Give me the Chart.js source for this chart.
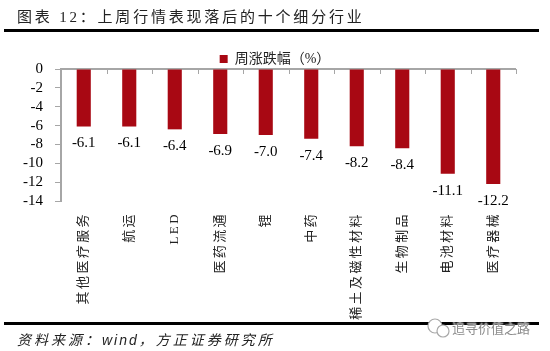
<!DOCTYPE html>
<html lang="zh">
<head>
  <meta charset="UTF-8">
  <title>图表 12</title>
  <script src="https://cdn.jsdelivr.net/npm/chart.js"></script>
  <style>
    html, body { margin: 0; padding: 0; background: #fff; }
    #wrap { position: relative; width: 550px; height: 351px; overflow: hidden; font-family: "Liberation Serif", "Noto Sans CJK SC", serif; }
    #chart { position: absolute; left: 0; top: 0; }
    .rule { position: absolute; left: 4px; width: 535px; height: 3px; background: #000; }
    #ruleTop { top: 29px; }
    #ruleBottom { top: 322px; }
    #title { position: absolute; left: 17px; top: 5px; font-size: 15px; letter-spacing: 2.8px; color: #222; white-space: nowrap; }
    #source { position: absolute; left: 17px; top: 329px; font-size: 14px; font-style: italic; letter-spacing: 3px; color: #222; white-space: nowrap; }
    #source span { font-family: "Liberation Sans"; letter-spacing: 2px; }
    #mark { position: absolute; left: 424px; top: 316px; width: 112px; height: 24px; }
    #markText { position: absolute; left: 452px; top: 318px; font-size: 13px; color: #8c8c8c; white-space: nowrap; font-family: "Noto Sans CJK SC"; text-shadow: 0 0 2px #fff, 0 0 2px #fff; }
  </style>
</head>
<body>
  <div id="wrap">
    <canvas id="chart" width="550" height="351"></canvas>
    <div id="title">图表 12：上周行情表现落后的十个细分行业</div>
    <div class="rule" id="ruleTop"></div>
    <div class="rule" id="ruleBottom"></div>
    <div id="source">资料来源：<span>wind</span>，方正证券研究所</div>
    <svg id="mark" viewBox="0 0 112 24">
      <circle cx="11" cy="10" r="7" fill="#fff" stroke="#a8a8a8" stroke-width="1.2"/>
      <circle cx="19" cy="15" r="6" fill="#fff" stroke="#a8a8a8" stroke-width="1.2"/>
    </svg>
    <div id="markText">追寻价值之路</div>
  </div>

  <script>
    const categories = ['其他医疗服务', '航运', 'LED', '医药流通', '锂', '中药', '稀土及磁性材料', '生物制品', '电池材料', '医疗器械'];
    const weeklyChange = [-6.1, -6.1, -6.4, -6.9, -7.0, -7.4, -8.2, -8.4, -11.1, -12.2];
    const seriesName = '周涨跌幅（%）';
    const yTicks = [0, -2, -4, -6, -8, -10, -12, -14];

    const barColor = '#A80813';
    const axisColor = '#A6A6A6';
    const serif = '"Liberation Serif", "Noto Sans CJK SC", serif';

    // value labels under the bars, axis line + ticks along the zero line
    const extras = {
      id: 'extras',
      afterLayout(chart) {
        // legend sits closer to the plot than the layout would put it
        chart.legend.top += 7;
      },
      beforeDraw(chart) {
        // wider spacing for the category labels only
        const x = chart.scales.x, ctx = chart.ctx;
        if (x._spaced) return;
        const drawLabels = x.drawLabels;
        x.drawLabels = function (area) {
          ctx.save();
          ctx.letterSpacing = '2.4px';
          drawLabels.call(this, area);
          ctx.restore();
        };
        x._spaced = true;
      },
      beforeDatasetsDraw(chart) {
        const { ctx, scales } = chart;
        const x = scales.x, zero = scales.y.getPixelForValue(0);
        ctx.save();
        ctx.strokeStyle = axisColor;
        ctx.lineWidth = 2;
        ctx.beginPath();
        ctx.moveTo(x.left, zero);
        ctx.lineTo(x.right, zero);
        ctx.stroke();
        ctx.lineWidth = 1;
        const step = (x.right - x.left) / categories.length;
        for (let i = 1; i <= categories.length; i++) {
          const px = Math.round(x.left + step * i) + 0.5;
          ctx.beginPath();
          ctx.moveTo(px, zero);
          ctx.lineTo(px, zero + 5);
          ctx.stroke();
        }
        ctx.restore();
      },
      afterDatasetsDraw(chart) {
        const { ctx } = chart;
        const meta = chart.getDatasetMeta(0);
        ctx.save();
        ctx.font = '15px ' + serif;
        ctx.fillStyle = '#000';
        ctx.textAlign = 'center';
        ctx.textBaseline = 'middle';
        meta.data.forEach((bar, i) => {
          ctx.fillText(weeklyChange[i].toFixed(1), bar.x, bar.y + 17);
        });
        ctx.restore();
      }
    };

    new Chart(document.getElementById('chart'), {
      type: 'bar',
      data: {
        labels: categories,
        datasets: [{
          label: seriesName,
          data: weeklyChange,
          backgroundColor: barColor,
          barPercentage: 0.31,
          categoryPercentage: 1
        }]
      },
      options: {
        responsive: false,
        animation: false,
        layout: { padding: { top: 43 } },
        plugins: {
          tooltip: { enabled: false },
          legend: {
            position: 'top',
            labels: {
              boxWidth: 8,
              boxHeight: 8,
              padding: 2,
              color: '#222',
              font: { family: serif, size: 14 }
            }
          }
        },
        scales: {
          x: {
            position: 'bottom',
            grid: { display: false },
            border: { display: false },
            ticks: {
              minRotation: 90,
              maxRotation: 90,
              autoSkip: false,
              padding: 3,
              color: '#222',
              font: { family: serif, size: 13 }
            },
            afterFit(scale) { scale.height = 150; }
          },
          y: {
            min: -14,
            max: 0,
            afterBuildTicks(scale) { scale.ticks = yTicks.map(v => ({ value: v })); },
            grid: { drawOnChartArea: false, color: axisColor, tickLength: 6 },
            border: { color: axisColor, width: 2 },
            ticks: {
              autoSkip: false,
              padding: 12,
              color: '#000',
              font: { family: serif, size: 15 }
            },
            afterFit(scale) { scale.width = 61; }
          },
          // empty axis, only reserves the space to the right of the plot
          spacer: {
            position: 'right',
            grid: { display: false },
            border: { display: false },
            ticks: { display: false },
            afterFit(scale) { scale.width = 34; }
          }
        }
      },
      plugins: [extras]
    });
  </script>
</body>
</html>
